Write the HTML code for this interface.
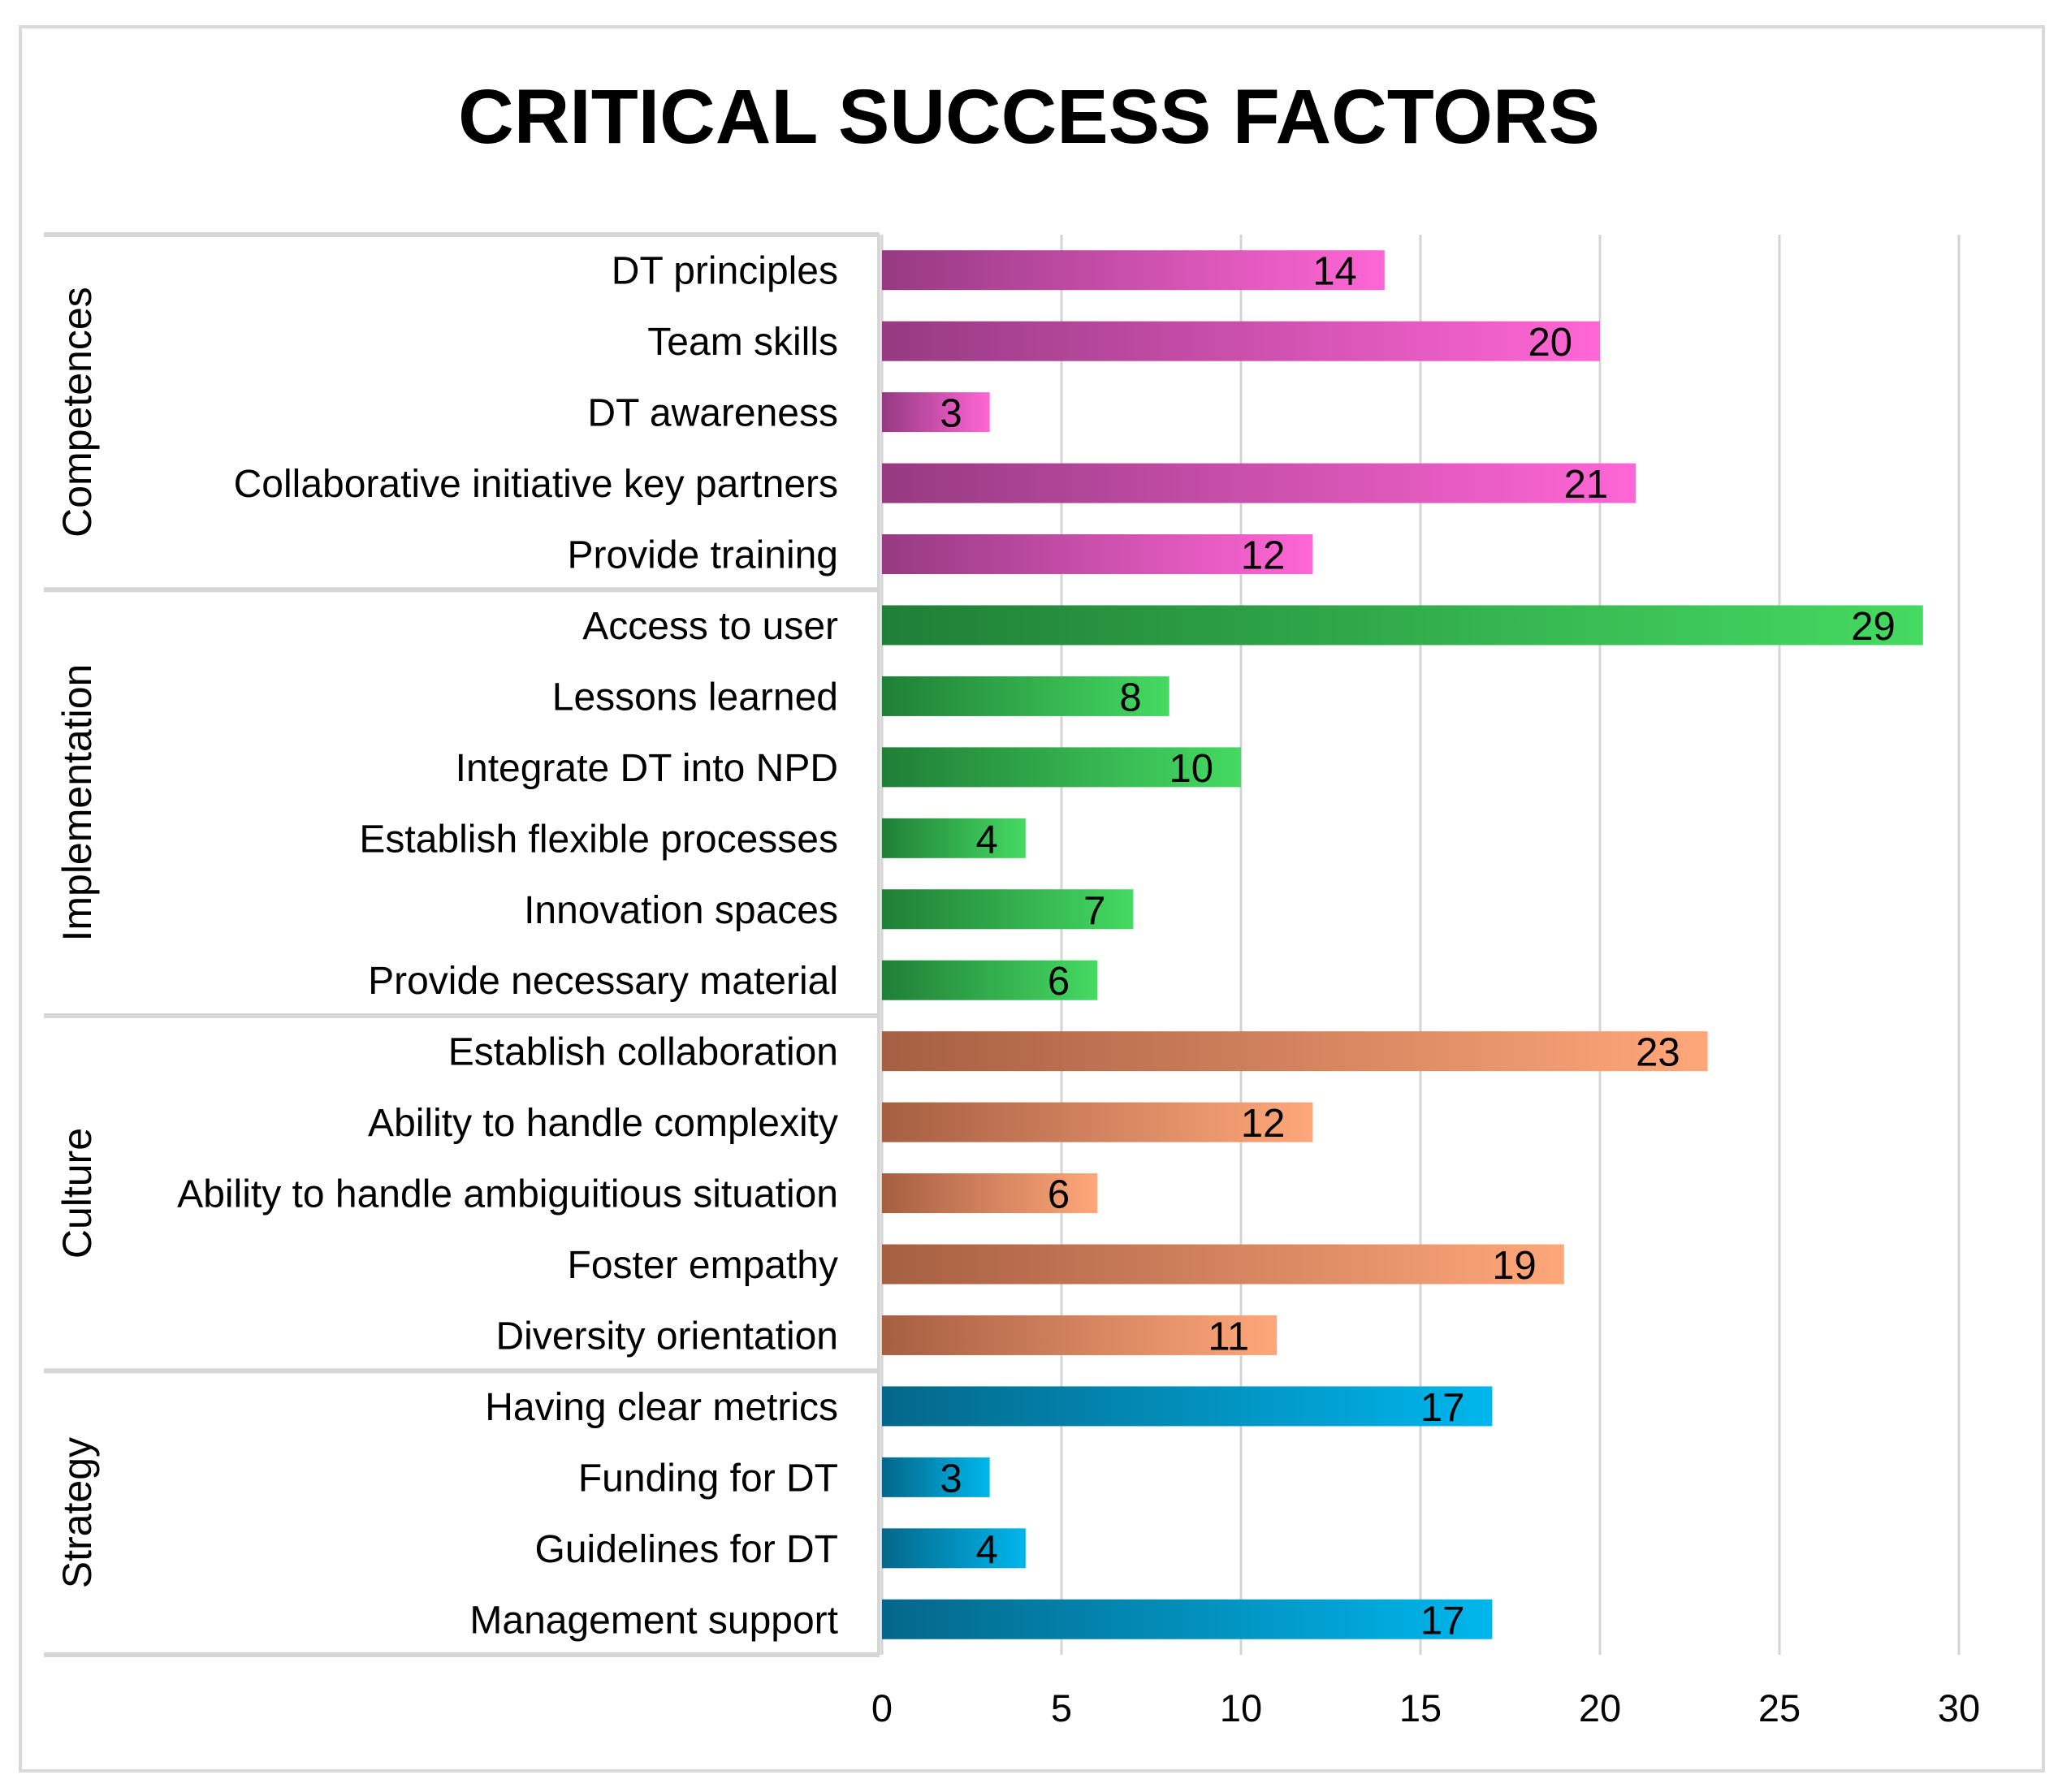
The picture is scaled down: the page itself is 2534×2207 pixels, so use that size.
<!DOCTYPE html>
<html><head><meta charset="utf-8"><style>
html,body{margin:0;padding:0;background:#fff;}
svg{display:block;font-family:"Liberation Sans",sans-serif;}
</style></head><body>
<svg id="chart" width="2534" height="2207" viewBox="0 0 2534 2207" xmlns="http://www.w3.org/2000/svg">
<defs>
<linearGradient id="g0" x1="0" x2="1" y1="0" y2="0"><stop offset="0" stop-color="#963a82"/><stop offset="1" stop-color="#ff66d6"/></linearGradient>
<linearGradient id="g1" x1="0" x2="1" y1="0" y2="0"><stop offset="0" stop-color="#1f7f36"/><stop offset="1" stop-color="#45da62"/></linearGradient>
<linearGradient id="g2" x1="0" x2="1" y1="0" y2="0"><stop offset="0" stop-color="#a65f42"/><stop offset="1" stop-color="#ffa77a"/></linearGradient>
<linearGradient id="g3" x1="0" x2="1" y1="0" y2="0"><stop offset="0" stop-color="#04678a"/><stop offset="1" stop-color="#00b6ec"/></linearGradient>
</defs>
<rect x="25" y="33" width="2491" height="2148" fill="#fff" stroke="#d9d9d9" stroke-width="4"/>
<text x="1267" y="176" text-anchor="middle" font-size="95" font-weight="bold" fill="#000">CRITICAL SUCCESS FACTORS</text>
<g id="grid"></g><g id="bars"></g><g id="cats"></g><g id="groups"></g><g id="ticks"></g>
</svg>
<script>
const categories=["DT principles","Team skills","DT awareness","Collaborative initiative key partners","Provide training","Access to user","Lessons learned","Integrate DT into NPD","Establish flexible  processes","Innovation spaces","Provide necessary material","Establish collaboration","Ability to handle complexity","Ability to handle ambiguitious situation","Foster empathy","Diversity orientation","Having clear metrics","Funding for DT","Guidelines for DT","Management support"];
const values=[14,20,3,21,12,29,8,10,4,7,6,23,12,6,19,11,17,3,4,17];
const groupIndex=[0,0,0,0,0,1,1,1,1,1,1,2,2,2,2,2,3,3,3,3];
const groupNames=["Competences","Implementation","Culture","Strategy"];
const tickLabels=[0,5,10,15,20,25,30];
const NS="http://www.w3.org/2000/svg";
const X0=1086,UNIT=44.2,TOP=289,ROW=87.45,BH=49;
const x=v=>X0+v*UNIT;
const y=i=>TOP+ROW*(i+0.5);
function mk(tag,attrs,parent,text){const e=document.createElementNS(NS,tag);for(const k in attrs)e.setAttribute(k,attrs[k]);if(text!==undefined)e.textContent=text;document.getElementById(parent).appendChild(e);return e;}
const bottom=TOP+ROW*categories.length;
tickLabels.forEach(t=>{
  const l=mk('line',{x1:x(t),x2:x(t),y1:TOP,y2:bottom,stroke:'#d4d4d4','stroke-width':3},'grid');
  
  
  const tx=mk('text',{x:x(t),y:2120,'text-anchor':'middle','font-size':47,fill:'#000'},'ticks',String(t));
  
  
});
categories.forEach((c,i)=>{
  const r=mk('rect',{x:X0,y:y(i)-BH/2,width:x(values[i])-X0,height:BH,fill:'url(#g'+groupIndex[i]+')'},'bars');
  
  
  const v=mk('text',{x:x(values[i])-34,y:y(i)+18,'text-anchor':'end','font-size':49,fill:'#000'},'bars',String(values[i]));
  
  
  const t=mk('text',{x:1032,y:y(i)+17,'text-anchor':'end','font-size':48,fill:'#000'},'cats',c);
  
  
});
let bounds=[0];
for(let i=1;i<groupIndex.length;i++)if(groupIndex[i]!==groupIndex[i-1])bounds.push(i);
bounds.push(groupIndex.length);
bounds.forEach((b,k)=>{
  const yy=TOP+ROW*b;
  const l=mk('line',{x1:54,x2:1083,y1:yy,y2:yy,stroke:'#d6d6d6','stroke-width':6},'groups');
  
  
});
const vl=mk('line',{x1:1082,x2:1082,y1:TOP,y2:bottom,stroke:'#d6d6d6','stroke-width':4},'groups');


for(let k=0;k<bounds.length-1;k++){
  const cy=TOP+ROW*(bounds[k]+bounds[k+1])/2;
  const g=mk('text',{x:0,y:0,'text-anchor':'middle','font-size':50,fill:'#000',transform:'translate(112,'+cy+') rotate(-90)'},'groups',groupNames[k]);
  
  
}
</script>
</body></html>
